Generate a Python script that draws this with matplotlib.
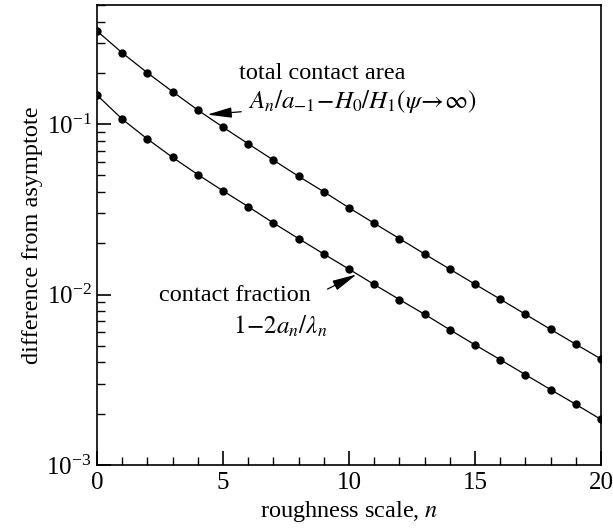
import numpy as np
import matplotlib.pyplot as plt
from matplotlib.ticker import LogLocator, MultipleLocator, NullFormatter

plt.rcParams['font.family'] = ['Liberation Serif', 'DejaVu Serif']
plt.rcParams['mathtext.fontset'] = 'stix'

n = np.arange(0, 21)

# difference from asymptote, total contact area
area = [0.352, 0.262, 0.200, 0.155, 0.121, 0.096, 0.0767, 0.0615, 0.0494, 0.0401,
        0.0323, 0.0262, 0.0213, 0.0173, 0.0141, 0.0115, 0.00940, 0.00766, 0.00625,
        0.00511, 0.00419]

# difference from asymptote, contact fraction
fraction = [0.148, 0.107, 0.0818, 0.0638, 0.0506, 0.0406, 0.0328, 0.0263, 0.0213,
            0.0173, 0.0141, 0.01146, 0.00935, 0.00766, 0.00622, 0.00507, 0.00415,
            0.00339, 0.00277, 0.00227, 0.00185]

fig = plt.figure(figsize=(6.13, 5.31), dpi=100)
ax = fig.add_axes([97/613, 1 - 465/531, 504/613, 460/531])

for vals in (area, fraction):
    ax.plot(n, vals, color='black', lw=0.9, marker='o', ms=5, mfc='black', mec='black')

ax.set_yscale('log')
ax.set_xlim(0, 20)
ax.set_ylim(1e-3, 0.5)

ax.xaxis.set_major_locator(MultipleLocator(5))
ax.xaxis.set_minor_locator(MultipleLocator(1))
ax.yaxis.set_major_locator(LogLocator(base=10, numticks=10))
ax.yaxis.set_minor_locator(LogLocator(base=10, subs=np.arange(2, 10), numticks=10))
ax.yaxis.set_minor_formatter(NullFormatter())

ax.tick_params(which='both', direction='in', top=False, right=False, labelsize=18)
ax.tick_params(axis='x', pad=5)
ax.tick_params(axis='y', pad=4)
ax.tick_params(which='major', length=10, width=1.2)
ax.tick_params(which='minor', length=6, width=1.0)
for s in ax.spines.values():
    s.set_linewidth(1.2)

ax.set_xlabel('roughness scale, $n$', fontsize=17.5, labelpad=4)
ax.set_ylabel('difference from asymptote', fontsize=17.5, labelpad=2)

arrow = dict(arrowstyle='-|>,head_length=0.75,head_width=0.16', color='black', lw=0.9,
             mutation_scale=20, shrinkA=3, shrinkB=0)

ax.text(5.65, 0.197, 'total contact area', fontsize=17.5, va='center', ha='left')
ax.annotate(r'$A_n/a_{-1}\!-\!H_0/H_1(\psi\!\rightarrow\!\infty)$',
            xy=(4.375, 0.1137), xytext=(6.0, 0.136), fontsize=18,
            va='center', ha='left', arrowprops=arrow)

ax.text(2.47, 0.00984, 'contact fraction', fontsize=17.5, va='center', ha='left')
ax.text(5.41, 0.00652, r'$1\!-\!2a_n/\lambda_n$', fontsize=18, va='center', ha='left')
ax.annotate('', xy=(10.30, 0.01312), xytext=(9.0, 0.01050), arrowprops=arrow)

fig.savefig('out.png', dpi=100)
